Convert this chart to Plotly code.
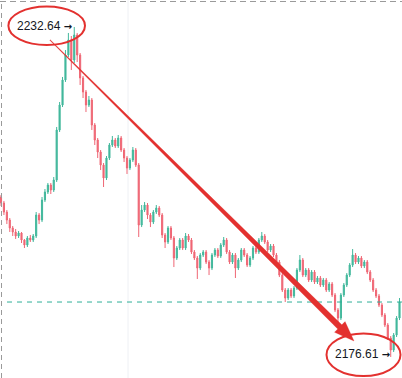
import plotly.graph_objects as go

W, H = 402, 378

opens = [2203.77, 2202.75, 2201.22, 2199.86, 2198.51, 2197.83, 2197.15, 2197.66, 2196.47, 2195.62,
         2196.81, 2196.47, 2197.15, 2200.71, 2199.86, 2203.26, 2204.62, 2205.81, 2204.96, 2206.66,
         2215.15, 2219.39, 2223.64, 2227.88, 2230.43, 2227.03, 2231.28, 2227.88, 2223.98, 2221.60,
         2219.39, 2220.24, 2215.99, 2213.45, 2211.41, 2209.20, 2207.00, 2210.39, 2212.60, 2213.45,
         2212.43, 2213.79, 2211.75, 2210.39, 2208.69, 2210.05, 2211.75, 2209.20, 2199.01, 2201.56,
         2202.41, 2200.71, 2199.52, 2201.22, 2201.90, 2200.71, 2197.32, 2196.13, 2198.51, 2196.81,
         2193.41, 2195.11, 2196.47, 2195.11, 2197.15, 2196.47, 2194.43, 2193.41, 2191.71, 2193.92,
         2194.43, 2192.73, 2191.71, 2193.92, 2194.77, 2193.75, 2195.62, 2196.47, 2194.43, 2192.73,
         2193.92, 2191.71, 2193.07, 2194.77, 2193.92, 2192.22, 2193.41, 2195.11, 2194.43, 2196.47,
         2197.15, 2196.13, 2194.77, 2195.45, 2193.92, 2192.73, 2190.52, 2187.98, 2186.62, 2187.98,
         2186.96, 2188.32, 2191.37, 2193.07, 2190.52, 2191.37, 2189.68, 2191.03, 2189.34, 2190.02,
         2188.83, 2189.68, 2187.98, 2189.00, 2187.13, 2184.58, 2183.22, 2187.13, 2188.83, 2190.52,
         2192.22, 2193.92, 2192.73, 2193.41, 2192.05, 2192.73, 2191.03, 2189.68, 2187.98, 2186.96,
         2185.43, 2183.73, 2182.03, 2179.83, 2177.79, 2180.34, 2183.22]

closes = [2202.75, 2201.22, 2199.86, 2198.51, 2197.83, 2197.15, 2197.66, 2196.47, 2195.62, 2196.81,
          2196.47, 2197.15, 2200.71, 2199.86, 2203.26, 2204.62, 2205.81, 2204.96, 2206.66, 2215.15,
          2219.39, 2223.64, 2227.88, 2230.43, 2227.03, 2231.28, 2227.88, 2223.98, 2221.60, 2219.39,
          2220.24, 2215.99, 2213.45, 2211.41, 2209.20, 2207.00, 2210.39, 2212.60, 2213.45, 2212.43,
          2213.79, 2211.75, 2210.39, 2208.69, 2210.05, 2211.75, 2209.20, 2199.01, 2201.56, 2202.41,
          2200.71, 2199.52, 2201.22, 2201.90, 2200.71, 2197.32, 2196.13, 2198.51, 2196.81, 2193.41,
          2195.11, 2196.47, 2195.11, 2197.15, 2196.47, 2194.43, 2193.41, 2191.71, 2193.92, 2194.43,
          2192.73, 2191.71, 2193.92, 2194.77, 2193.75, 2195.62, 2196.47, 2194.43, 2192.73, 2193.92,
          2191.71, 2193.07, 2194.77, 2193.92, 2192.22, 2193.41, 2195.11, 2194.43, 2196.47, 2197.15,
          2196.13, 2194.77, 2195.45, 2193.92, 2192.73, 2190.52, 2187.98, 2186.62, 2187.98, 2186.96,
          2188.32, 2191.37, 2193.07, 2190.52, 2191.37, 2189.68, 2191.03, 2189.34, 2190.02, 2188.83,
          2189.68, 2187.98, 2189.00, 2187.13, 2184.58, 2183.22, 2187.13, 2188.83, 2190.52, 2192.22,
          2193.92, 2192.73, 2193.41, 2192.05, 2192.73, 2191.03, 2189.68, 2187.98, 2186.96, 2185.43,
          2183.73, 2182.03, 2179.83, 2177.79, 2180.34, 2183.22, 2185.94]

highs = [2204.11, 2203.10, 2201.56, 2200.20, 2198.85, 2198.34, 2198.00, 2197.83, 2196.64, 2197.15,
         2197.32, 2197.49, 2201.22, 2201.05, 2203.77, 2205.13, 2206.15, 2206.15, 2207.17, 2215.66,
         2219.90, 2224.15, 2228.73, 2231.62, 2231.11, 2232.64, 2231.62, 2228.22, 2224.32, 2221.94,
         2220.92, 2220.58, 2216.33, 2213.79, 2211.75, 2209.54, 2210.73, 2212.94, 2214.13, 2213.79,
         2214.30, 2214.13, 2212.09, 2210.73, 2210.39, 2212.26, 2212.09, 2209.54, 2202.41, 2202.92,
         2202.75, 2201.05, 2201.56, 2202.41, 2202.24, 2201.05, 2197.66, 2198.85, 2198.85, 2197.15,
         2195.45, 2196.81, 2196.81, 2197.66, 2197.49, 2196.81, 2194.77, 2193.75, 2194.26, 2194.77,
         2194.77, 2193.07, 2194.26, 2195.11, 2195.11, 2195.96, 2196.98, 2196.81, 2194.77, 2194.26,
         2194.26, 2193.41, 2195.11, 2195.11, 2194.26, 2193.75, 2195.45, 2195.45, 2196.81, 2197.83,
         2197.49, 2196.47, 2195.79, 2195.79, 2194.26, 2193.07, 2190.86, 2188.32, 2188.32, 2188.32,
         2188.66, 2191.71, 2193.92, 2193.41, 2191.71, 2191.71, 2191.37, 2191.37, 2190.36, 2190.36,
         2190.02, 2190.02, 2189.34, 2189.34, 2187.47, 2184.92, 2187.47, 2189.17, 2190.86, 2192.56,
         2194.94, 2194.26, 2193.75, 2193.75, 2193.07, 2193.07, 2191.37, 2190.02, 2188.32, 2187.30,
         2185.77, 2184.07, 2182.37, 2180.17, 2180.68, 2183.56, 2186.62]

lows = [2202.24, 2200.71, 2199.18, 2197.83, 2197.15, 2196.64, 2196.81, 2195.96, 2195.11, 2195.28,
        2196.13, 2196.13, 2196.81, 2199.18, 2199.52, 2202.92, 2204.28, 2204.28, 2204.62, 2206.32,
        2214.81, 2219.05, 2223.30, 2227.54, 2225.33, 2226.52, 2226.69, 2222.79, 2220.58, 2218.20,
        2219.05, 2215.15, 2212.60, 2210.39, 2208.35, 2205.47, 2206.66, 2210.05, 2212.26, 2212.09,
        2212.09, 2211.41, 2209.71, 2207.68, 2208.35, 2209.71, 2208.86, 2196.98, 2198.67, 2201.22,
        2200.03, 2198.67, 2199.18, 2200.88, 2200.37, 2196.81, 2195.11, 2195.79, 2196.47, 2191.88,
        2193.07, 2194.77, 2194.77, 2194.77, 2196.13, 2194.09, 2193.07, 2189.85, 2191.37, 2193.58,
        2192.39, 2190.52, 2191.37, 2193.58, 2193.41, 2193.41, 2195.28, 2194.09, 2192.39, 2192.39,
        2190.02, 2191.37, 2192.73, 2193.58, 2191.88, 2191.88, 2193.07, 2194.09, 2194.09, 2196.13,
        2195.79, 2194.43, 2194.43, 2193.58, 2192.39, 2190.18, 2187.64, 2185.94, 2186.28, 2186.62,
        2186.62, 2187.98, 2191.03, 2190.18, 2190.18, 2189.34, 2189.34, 2189.00, 2189.00, 2188.49,
        2188.49, 2187.64, 2187.64, 2186.79, 2184.24, 2182.54, 2182.88, 2186.79, 2188.49, 2190.18,
        2191.88, 2192.39, 2192.39, 2191.71, 2191.71, 2190.69, 2189.34, 2187.64, 2186.62, 2185.09,
        2183.39, 2181.69, 2179.49, 2176.61, 2177.45, 2180.00, 2182.88]

idx = list(range(len(closes)))
high_label = "2232.64"
low_label = "2176.61"
grid_index = 43.35

UP = "#42b89c"
DOWN = "#ef6674"
RED = "#e3312f"


def px(x, y):
    return x / W, 1 - y / H


fig = go.Figure()
fig.add_trace(go.Candlestick(
    x=idx, open=opens, high=highs, low=lows, close=closes,
    increasing=dict(line=dict(color=UP, width=1), fillcolor=UP),
    decreasing=dict(line=dict(color=DOWN, width=1), fillcolor=DOWN),
    whiskerwidth=0, hoverinfo="skip",
))

shapes = []
shapes.append(dict(type="line", xref="x", yref="paper", x0=grid_index, x1=grid_index,
                   y0=0, y1=1, line=dict(color="#eef0f4", width=1), layer="below"))
shapes.append(dict(type="line", xref="paper", yref="paper", x0=0, x1=1,
                   y0=1 - 1.5 / H, y1=1 - 1.5 / H,
                   line=dict(color="#9a9a9a", width=1, dash="6px,4px")))
shapes.append(dict(type="line", xref="paper", yref="paper", x0=1.5 / W, x1=1.5 / W,
                   y0=0, y1=1, line=dict(color="#9a9a9a", width=1, dash="5px,4px")))
shapes.append(dict(type="line", xref="paper", yref="y", x0=7 / W, x1=1,
                   y0=closes[-1], y1=closes[-1],
                   line=dict(color="#2fae98", width=1, dash="5px,5px")))
for (cx, cy, rx, ry) in [(46.7, 25.8, 38.3, 19.2), (363.5, 354.7, 37.0, 21.3)]:
    x0, y0 = px(cx - rx, cy + ry)
    x1, y1 = px(cx + rx, cy - ry)
    shapes.append(dict(type="circle", xref="paper", yref="paper",
                       x0=x0, x1=x1, y0=y0, y1=y1,
                       line=dict(color=RED, width=2)))

# tapered arrow
sx, sy = 50.0, 40.0
tx, ty = 354.0, 341.0
L = ((tx - sx) ** 2 + (ty - sy) ** 2) ** 0.5
dx, dy = (tx - sx) / L, (ty - sy) / L
nx, ny = -dy, dx
head_len, head_hw = 20.0, 7.5
bx, by = tx - head_len * dx, ty - head_len * dy
w0, w1 = 0.3, 2.9
pts = [
    (sx + nx * w0, sy + ny * w0),
    (bx + nx * w1, by + ny * w1),
    (bx + nx * head_hw, by + ny * head_hw),
    (tx, ty),
    (bx - nx * head_hw, by - ny * head_hw),
    (bx - nx * w1, by - ny * w1),
    (sx - nx * w0, sy - ny * w0),
]
path = "M " + " L ".join("%.5f,%.5f" % px(x, y) for x, y in pts) + " Z"
shapes.append(dict(type="path", xref="paper", yref="paper", path=path,
                   fillcolor=RED, line=dict(color=RED, width=0.3)))

annotations = []
arrow_html = "<span style='font-family:DejaVu Sans;font-size:10px;font-weight:bold'>→</span>"
for text, (cx, cy) in [(high_label, (44.5, 26.0)), (low_label, (362.5, 353.5))]:
    ax_, ay_ = px(cx, cy)
    annotations.append(dict(text=text + " " + arrow_html, xref="paper", yref="paper", x=ax_, y=ay_,
                            xanchor="center", yanchor="middle", showarrow=False,
                            font=dict(family="Liberation Sans, Arial, sans-serif",
                                      size=12, color="#131722")))

fig.update_layout(
    width=W, height=H,
    margin=dict(l=0, r=0, t=0, b=0),
    paper_bgcolor="white", plot_bgcolor="white",
    showlegend=False,
    boxgap=0.45,
    xaxis=dict(range=[-0.341, 136.85], visible=False, rangeslider=dict(visible=False),
               showgrid=False, zeroline=False),
    yaxis=dict(range=[2173.04, 2237.22], visible=False, showgrid=False, zeroline=False),
    shapes=shapes,
    annotations=annotations,
)

fig.write_html("out.html")
